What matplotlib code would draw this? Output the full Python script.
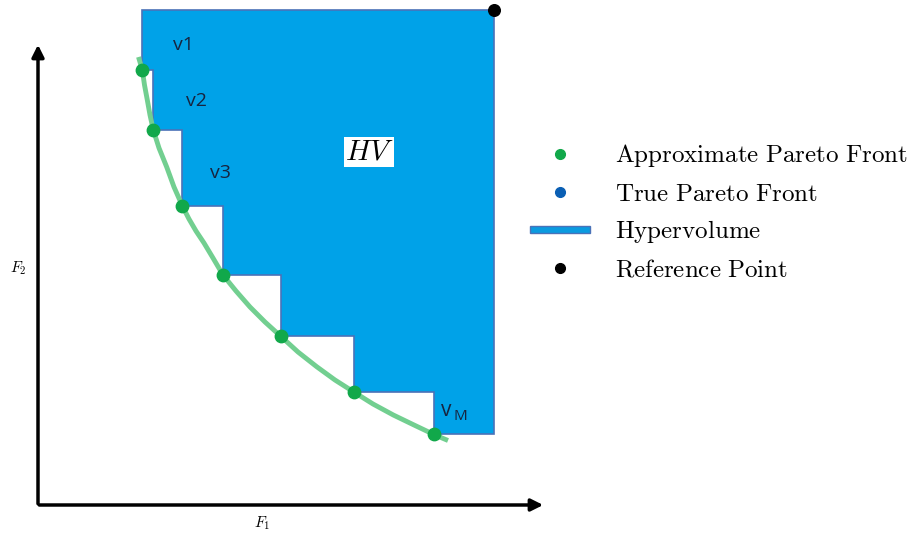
import numpy as np
import matplotlib
matplotlib.use('Agg')
import matplotlib.pyplot as plt
from matplotlib.patches import Polygon, Rectangle
from matplotlib.lines import Line2D
from matplotlib.legend_handler import HandlerPatch

# approximate pareto front points (F1, F2)
f1_pts = [1.04, 1.15, 1.44, 1.85, 2.43, 3.16, 3.96]
f2_pts = [4.35, 3.75, 2.99, 2.30, 1.69, 1.13, 0.71]

# true front curve
f1_curve = [1.005, 1.043, 1.065, 1.093, 1.12, 1.153, 1.21, 1.287, 1.36, 1.447, 1.51, 1.58, 1.66, 1.75,
            1.85, 1.98, 2.12, 2.27, 2.43, 2.60, 2.787, 2.97, 3.163, 3.35, 3.553, 3.76, 3.97, 4.10]
f2_curve = [4.48, 4.35, 4.20, 4.05, 3.90, 3.75, 3.57, 3.38, 3.18, 2.983, 2.86, 2.74, 2.62, 2.47,
            2.30, 2.14, 1.98, 1.83, 1.685, 1.53, 1.383, 1.25, 1.127, 1.01, 0.90, 0.80, 0.70, 0.645]

ref_pt = (4.56, 4.95)

labels = ['v1', 'v2', 'v3']
label_pos = [(1.45, 4.60), (1.59, 4.04), (1.82, 3.32)]

green = '#11a84a'
blue_fill = '#00a2e8'
blue_edge = '#4a72b8'

fig = plt.figure(figsize=(9.09, 5.35), dpi=100)
ax = fig.add_axes([0, 0, 1, 1])
ax.set_xlim(-0.38, 8.71)
ax.set_ylim(-0.30, 5.05)
ax.axis('off')

# hypervolume staircase polygon
verts = [(f1_pts[0], ref_pt[1]), ref_pt, (ref_pt[0], f2_pts[-1])]
for i in range(len(f1_pts) - 1, 0, -1):
    verts.append((f1_pts[i], f2_pts[i]))
    verts.append((f1_pts[i], f2_pts[i - 1]))
verts.append((f1_pts[0], f2_pts[0]))
ax.add_patch(Polygon(verts, closed=True, facecolor=blue_fill, edgecolor=blue_edge, lw=1.2, zorder=1))

ax.plot(f1_curve, f2_curve, color='#72cf90', lw=3.5, solid_capstyle='butt', solid_joinstyle='round', zorder=2)
ax.scatter(f1_pts, f2_pts, s=80, color=green, zorder=3)
ax.scatter([ref_pt[0]], [ref_pt[1]], s=70, color='black', zorder=4, clip_on=False)

# axes arrows
ax.annotate('', xy=(5.08, 0), xytext=(-0.015, 0),
            arrowprops=dict(arrowstyle='-|>', color='black', lw=2.5, mutation_scale=18))
ax.annotate('', xy=(0, 4.63), xytext=(0, -0.015),
            arrowprops=dict(arrowstyle='-|>', color='black', lw=2.5, mutation_scale=18))
ax.text(2.24, -0.18, r'$F_1$', math_fontfamily='cm', fontsize=11, ha='center', va='center')
ax.text(-0.20, 2.37, r'$F_2$', math_fontfamily='cm', fontsize=11, ha='center', va='center')

for t, (x, y) in zip(labels, label_pos):
    ax.text(x, y, t, fontsize=14, family='Open Sans', color='#17243f', ha='center', va='center')
ax.text(4.03, 0.95, 'v', fontsize=15, family='Open Sans', color='#17243f', ha='left', va='center')
ax.text(4.16, 0.88, 'M', fontsize=11, family='Open Sans', color='#17243f', ha='left', va='center')

ax.text(3.31, 3.53, r'$HV$', math_fontfamily='cm', fontsize=21, ha='center', va='center',
        bbox=dict(facecolor='white', edgecolor='none', pad=0.5))


def thin_rect(legend, orig_handle, xdescent, ydescent, width, height, fontsize):
    h = 0.4 * height
    return Rectangle((-xdescent, -ydescent + (height - h) / 2), width, h)


handles = [
    Line2D([], [], ls='none', marker='o', ms=7, color=green),
    Line2D([], [], ls='none', marker='o', ms=7, color='#0a5fb4'),
    Rectangle((0, 0), 1, 1, facecolor='#0a9be0', edgecolor=blue_edge, lw=1),
    Line2D([], [], ls='none', marker='o', ms=7, color='black'),
]
names = [r'$\mathrm{Approximate\ Pareto\ Front}$', r'$\mathrm{True\ Pareto\ Front}$',
         r'$\mathrm{Hypervolume}$', r'$\mathrm{Reference\ Point}$']
leg = fig.legend(handles, names, loc='upper left', bbox_to_anchor=(0.558, 0.776),
                 frameon=False, handlelength=2.4, handletextpad=1.0, labelspacing=0.5,
                 prop=dict(size=18, math_fontfamily='cm'),
                 handler_map={Rectangle: HandlerPatch(patch_func=thin_rect)})

fig.savefig('out.png', dpi=100)
